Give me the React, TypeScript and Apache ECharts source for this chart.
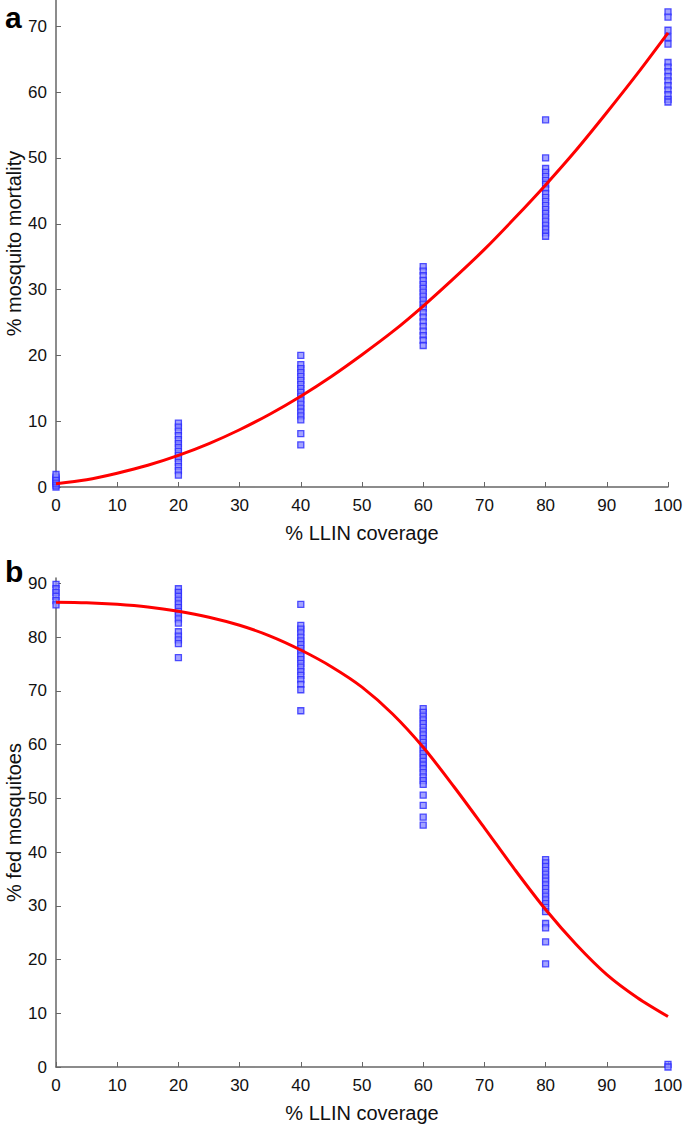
import React, { useEffect, useRef } from "react";
import * as echarts from "echarts";

// Panel a: % mosquito mortality observations at each LLIN coverage level
const coverageLevels = [0, 20, 40, 60, 80, 100];
const mortality0 = [0, 0.3, 0.6, 0.9, 1.2, 1.5, 1.9];
const mortality20 = [9.7, 9.1, 8.5, 7.8, 7.2, 6.6, 6.0, 5.4, 4.8, 4.3, 3.7, 3.1, 2.5, 1.8];
const mortality40 = [20.0, 18.6, 18.0, 17.4, 16.8, 16.2, 15.6, 15.0, 14.4, 13.8, 13.2, 12.6, 12.0, 11.4, 10.8, 10.2, 8.1, 6.4];
const mortality60 = [33.5, 32.8, 32.1, 31.4, 30.8, 30.2, 29.6, 29.0, 28.4, 27.8, 27.2, 26.5, 25.8, 25.1, 24.4, 23.7, 23.0, 22.3, 21.5];
const mortality80 = [55.8, 50.0, 48.4, 47.8, 47.2, 46.6, 46.0, 45.3, 44.6, 44.0, 43.4, 42.8, 42.2, 41.6, 41.0, 40.4, 39.8, 39.2, 38.6, 38.1];
const mortality100 = [72.2, 71.4, 69.4, 68.3, 67.3, 64.5, 63.8, 63.1, 62.4, 61.7, 61.0, 60.3, 59.6, 58.9, 58.5];

// Fitted curves
const curveX = [0, 5, 10, 15, 20, 25, 30, 35, 40, 45, 50, 55, 60, 65, 70, 75, 80, 85, 90, 95, 100];
const mortalityCurve = [0.5, 1.1, 2.1, 3.3, 4.8, 6.6, 8.7, 11.1, 13.8, 16.8, 20.1, 23.6, 27.5, 31.7, 36.1, 40.9, 45.9, 51.2, 56.9, 62.8, 69.0];

// Panel b: % fed mosquitoes
const fed0 = [89.8, 89.0, 88.3, 87.6, 86.8, 86.0];
const fed20 = [89.0, 88.3, 87.6, 86.9, 86.2, 85.5, 84.8, 84.1, 83.4, 82.6, 81.0, 80.2, 79.5, 78.8, 76.2];
const fed40 = [86.1, 82.2, 81.5, 80.8, 80.0, 79.3, 78.6, 77.9, 77.2, 76.5, 75.8, 75.1, 74.4, 73.6, 72.9, 72.1, 71.2, 70.2, 66.3];
const fed60 = [66.7, 66.0, 65.3, 64.6, 63.9, 63.2, 62.5, 61.8, 61.1, 60.4, 59.7, 59.0, 58.3, 57.6, 56.9, 56.2, 55.5, 54.8, 54.0, 53.3, 52.6, 50.6, 48.7, 46.5, 45.0];
const fed80 = [38.6, 38.0, 37.3, 36.6, 35.9, 35.2, 34.6, 33.9, 33.2, 32.5, 31.8, 31.1, 30.4, 29.7, 28.9, 26.7, 25.9, 23.3, 19.2];
const fed100 = [0.5, 0];
const fedCurve = [86.5, 86.4, 86.1, 85.6, 84.8, 83.7, 82.2, 80.2, 77.6, 74.5, 70.7, 65.7, 59.5, 52.2, 44.5, 36.7, 29.3, 22.8, 17.2, 12.9, 9.4];

const yTicksA = [0, 10, 20, 30, 40, 50, 60, 70];
const yTicksB = [0, 10, 20, 30, 40, 50, 60, 70, 80, 90];

const FONT = "Liberation Sans, Arial, Helvetica, sans-serif";

function pairs(groups: number[][]): number[][] {
  const out: number[][] = [];
  groups.forEach((g, i) => g.forEach((v) => out.push([coverageLevels[i], v])));
  return out;
}

export default function App() {
  const ref = useRef<HTMLDivElement>(null);
  useEffect(() => {
    if (!ref.current) return;
    const chart = echarts.init(ref.current, undefined, { renderer: "svg" });
    const axisLineStyle = { color: "#666", width: 1.5 };
    const xAxisBase = (gridIndex: number) => ({
      gridIndex,
      type: "value",
      min: 0,
      max: 100,
      interval: 10,
      axisLine: { show: true, onZero: false, lineStyle: axisLineStyle },
      axisTick: { show: true, inside: true, length: 5, lineStyle: { color: "#666", width: 1 } },
      axisLabel: { color: "#111", fontSize: 17, margin: 10, fontFamily: FONT },
      splitLine: { show: false },
      name: "% LLIN coverage",
      nameLocation: "middle",
      nameGap: 36,
      nameTextStyle: { color: "#111", fontSize: 20, fontFamily: FONT },
    });
    const yAxisBase = (gridIndex: number, max: number, ticks: number[], name: string) => ({
      gridIndex,
      type: "value",
      min: 0,
      max,
      interval: 10,
      axisLine: { show: true, onZero: false, lineStyle: axisLineStyle },
      axisTick: { show: true, inside: true, length: 5, customValues: ticks, lineStyle: { color: "#666", width: 1 } },
      axisLabel: {
        color: "#111",
        fontSize: 17,
        margin: 9,
        fontFamily: FONT,
        customValues: ticks,
        formatter: (v: number) => (v % 10 === 0 ? String(v) : ""),
      },
      splitLine: { show: false },
      name,
      nameLocation: "middle",
      nameMoveOverlap: false,
      nameGap: 32,
      nameTextStyle: { color: "#111", fontSize: 20, fontFamily: FONT },
    });
    const scatterStyle = {
      color: "#8c8cff",
      borderColor: "#2828ff",
      borderWidth: 1.3,
    };
    chart.setOption({
      animation: false,
      backgroundColor: "#fff",
      grid: [
        { left: 56, top: 0, width: 612, height: 487, outerBoundsMode: "none", containLabel: false },
        { left: 56, top: 578, width: 612, height: 489, outerBoundsMode: "none", containLabel: false },
      ],
      xAxis: [xAxisBase(0), xAxisBase(1)],
      yAxis: [
        yAxisBase(0, 74, yTicksA, "% mosquito mortality"),
        yAxisBase(1, 91, yTicksB, "% fed mosquitoes"),
      ],
      graphic: [
        { type: "text", left: 5, top: 2, style: { text: "a", font: `bold 30px ${FONT}`, fill: "#000" } },
        { type: "text", left: 5, top: 556, style: { text: "b", font: `bold 30px ${FONT}`, fill: "#000" } },
      ],
      series: [
        {
          type: "scatter",
          xAxisIndex: 0,
          yAxisIndex: 0,
          symbol: "rect",
          symbolSize: 6,
          itemStyle: scatterStyle,
          data: pairs([mortality0, mortality20, mortality40, mortality60, mortality80, mortality100]),
          z: 2,
        },
        {
          type: "line",
          xAxisIndex: 0,
          yAxisIndex: 0,
          smooth: 0.3,
          showSymbol: false,
          lineStyle: { color: "#ff0000", width: 3 },
          data: curveX.map((x, i) => [x, mortalityCurve[i]]),
          z: 3,
        },
        {
          type: "scatter",
          xAxisIndex: 1,
          yAxisIndex: 1,
          symbol: "rect",
          symbolSize: 6,
          itemStyle: scatterStyle,
          data: pairs([fed0, fed20, fed40, fed60, fed80, fed100]),
          z: 2,
        },
        {
          type: "line",
          xAxisIndex: 1,
          yAxisIndex: 1,
          smooth: 0.3,
          showSymbol: false,
          lineStyle: { color: "#ff0000", width: 3 },
          data: curveX.map((x, i) => [x, fedCurve[i]]),
          z: 3,
        },
      ],
    });
    return () => chart.dispose();
  }, []);
  return (
    <div
      ref={ref}
      style={{ position: "absolute", left: 0, top: 0, width: 685, height: 1129, background: "#fff" }}
    />
  );
}
